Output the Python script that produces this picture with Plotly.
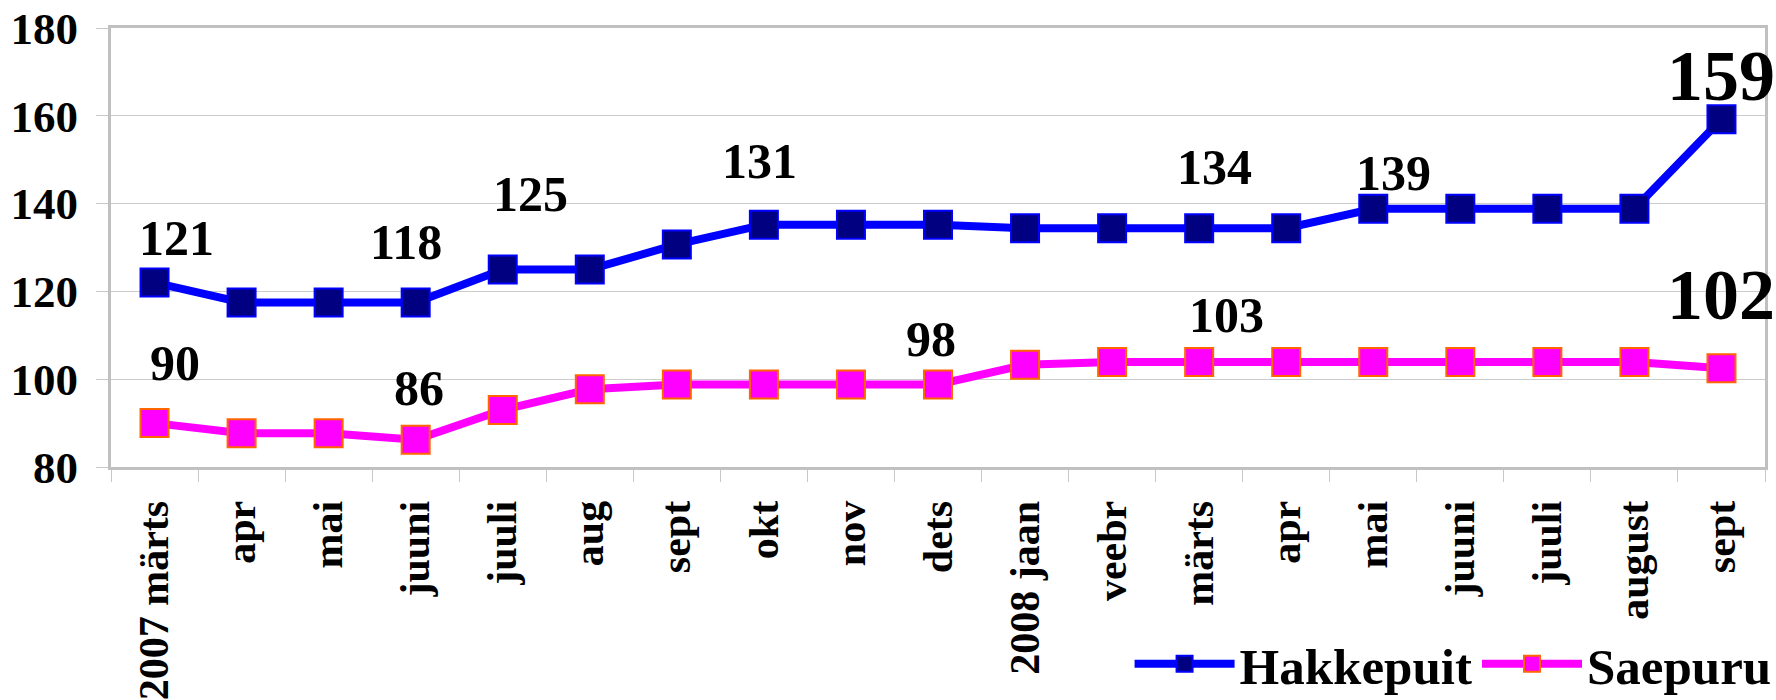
import plotly.graph_objects as go

categories = ["2007 märts", "apr", "mai", "juuni", "juuli", "aug", "sept", "okt", "nov",
              "dets", "2008 jaan", "veebr", "märts", "apr", "mai", "juuni", "juuli",
              "august", "sept"]
hakkepuit = [122, 117.5, 117.5, 117.5, 125, 125, 130.7, 135.2, 135.2, 135.2, 134.4, 134.4,
             134.4, 134.4, 138.8, 138.8, 138.8, 138.8, 159.2]
saepuru = [90, 87.7, 87.7, 86.2, 93, 97.7, 98.8, 98.8, 98.8, 98.8, 103.3, 103.9, 103.9,
           103.9, 103.9, 103.9, 103.9, 103.9, 102.5]

# data labels: (series, category index, text)
label_series = ["H", "H", "H", "H", "H", "H", "H", "S", "S", "S", "S", "S"]
label_index = [0, 3, 4, 7, 12, 14, 18, 0, 3, 9, 12, 18]
label_text = ["121", "118", "125", "131", "134", "139", "159", "90", "86", "98", "103", "102"]
label_dx = [22, -10, 28, -4, 15, 20, 0, 20, 3, -7, 27, 0]
label_dy = [45, 60, 75, 64, 61, 36, 43, 60, 52, 45, 47, 73]
label_size = [50, 50, 50, 50, 50, 50, 72, 50, 50, 50, 50, 72]

yticks = [80, 100, 120, 140, 160, 180]

FONT = "Liberation Serif, Times New Roman, serif"
x = list(range(len(categories)))

fig = go.Figure()
fig.add_trace(go.Scatter(
    x=x, y=hakkepuit, name="Hakkepuit", mode="lines+markers",
    line=dict(color="#0000FF", width=8),
    marker=dict(symbol="square", size=28, color="#000080",
                line=dict(color="#0000FF", width=2)),
))
fig.add_trace(go.Scatter(
    x=x, y=saepuru, name="Saepuru", mode="lines+markers",
    line=dict(color="#FF00FF", width=8),
    marker=dict(symbol="square", size=28, color="#FF00FF",
                line=dict(color="#FF6600", width=2)),
))

series_vals = {"H": hakkepuit, "S": saepuru}
for s, i, t, dx, dy, fs in zip(label_series, label_index, label_text, label_dx, label_dy, label_size):
    fig.add_annotation(
        x=i, y=series_vals[s][i], text=t, showarrow=False,
        xshift=dx, yshift=dy, xanchor="center", yanchor="middle",
        font=dict(family=FONT, size=fs, color="black", weight="bold"),
    )

fig.update_layout(
    width=1776, height=700,
    margin=dict(l=111, r=11, t=28, b=233, autoexpand=False),
    paper_bgcolor="white", plot_bgcolor="white",
    showlegend=True,
    legend=dict(orientation="h", x=1.007, xanchor="right", y=-0.449, yanchor="middle",
                font=dict(family=FONT, size=51, color="black", weight="bold"),
                itemwidth=100, bgcolor="rgba(0,0,0,0)", traceorder="normal",
                tracegroupgap=0, itemsizing="trace"),
    font=dict(family=FONT, color="black"),
)
fig.update_xaxes(
    range=[-0.5, len(categories) - 0.5],
    tickmode="array", tickvals=x, ticktext=categories,
    tickangle=-90, ticks="",
    tickfont=dict(family=FONT, size=42, color="black", weight="bold"),
    ticklabelstandoff=14,
    showgrid=False, zeroline=False, automargin=False,
    showline=True, mirror=True, linecolor="#C0C0C0", linewidth=3,
    minor=dict(ticks="outside", tick0=-0.5, dtick=1, ticklen=12,
               tickcolor="#C8C8C8", tickwidth=1, showgrid=False),
)
fig.update_yaxes(
    range=[80, 180], tickmode="array", tickvals=yticks,
    ticks="outside", ticklen=12, tickcolor="#C8C8C8", tickwidth=1,
    tickfont=dict(family=FONT, size=45, color="black", weight="bold"),
    ticklabelstandoff=9, automargin=False,
    showgrid=True, gridcolor="#CCCCCC", gridwidth=1, zeroline=False,
    showline=True, mirror=True, linecolor="#C0C0C0", linewidth=3,
)

fig.write_html("out.html", config={"displayModeBar": False},
               post_script="document.body.style.margin='0px';document.body.style.overflow='hidden';")
